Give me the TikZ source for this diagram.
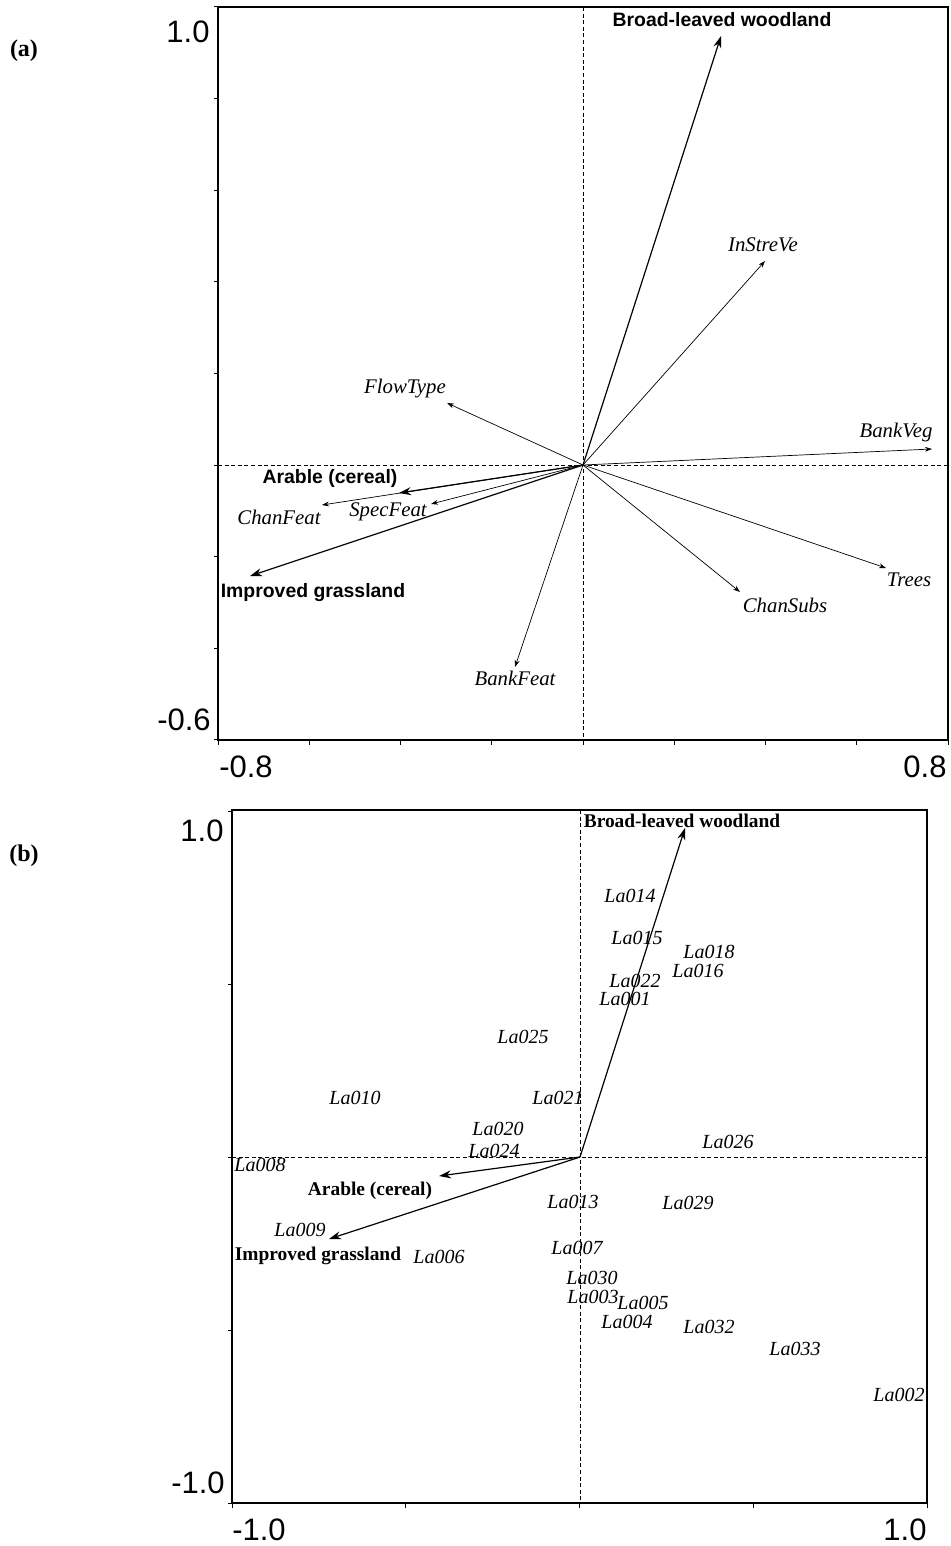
\documentclass[tikz,border=0pt]{standalone}
\usepackage{fontspec}
\setmainfont{Liberation Serif}
\setsansfont{Liberation Sans}
\usetikzlibrary{arrows.meta}
\begin{document}
\begin{tikzpicture}[x=0.5pt,y=-0.5pt,
  frame/.style={line width=0.7pt},
  axisdash/.style={line width=0.4pt, dash pattern=on 2pt off 1.3pt},
  thinarr/.style={line width=0.35pt, -{Stealth[length=3.5pt,width=2.4pt]}},
  thickarr/.style={line width=0.6pt, -{Stealth[length=6pt,width=4pt]}},
  ticklab/.style={font=\sffamily\fontsize{15.5}{16}\selectfont, inner sep=0},
  envsans/.style={font=\sffamily\bfseries\fontsize{9.7}{10}\selectfont, inner sep=0},
  varlab/.style={font=\itshape\fontsize{10.4}{11}\selectfont, inner sep=0},
  envserif/.style={font=\bfseries\fontsize{9.7}{10}\selectfont, inner sep=0},
  sitelab/.style={font=\itshape\fontsize{10}{11}\selectfont, inner sep=0},
  panellab/.style={font=\bfseries\fontsize{12}{13}\selectfont, inner sep=0},
  tick/.style={line width=0.5pt}]
\useasboundingbox (0,0) rectangle (950,1546);

% ================= Panel (a) =================
\node[panellab] (pa) at (24,51) {(a)};
\draw[frame] (218,740) -- (218,7) -- (948,7) -- (948,740) -- cycle;
\foreach \k in {-3,...,5} { \draw[tick] (214,{465-\k*91.6}) -- (218,{465-\k*91.6}); }
\foreach \k in {0,...,8} { \draw[tick] ({218+\k*91.25},740) -- ({218+\k*91.25},745); }
\draw[axisdash] (218,465) -- (948,465);
\draw[axisdash] (583,7) -- (583,740);
\node[ticklab] (ya1) at (188,32) {1.0};
\node[ticklab] (ya2) at (184,720) {-0.6};
\node[ticklab] (xa1) at (246,767) {-0.8};
\node[ticklab] (xa2) at (925,767) {0.8};

\coordinate (oa) at (583,465);
\coordinate (tBLW) at (721,36);
\coordinate (tISV) at (765,261);
\coordinate (tFT) at (447,403);
\coordinate (tBV) at (932,449);
\coordinate (tTR) at (886,568);
\coordinate (tCS) at (740,592);
\coordinate (tBF) at (515,667);
\coordinate (tAC) at (399,493);
\coordinate (tCF) at (322,505);
\coordinate (tSF) at (431,504);
\coordinate (tIG) at (250,576);

\draw[thickarr] (oa) -- (tBLW);
\draw[thinarr] (oa) -- (tISV);
\draw[thinarr] (oa) -- (tFT);
\draw[thinarr] (oa) -- (tBV);
\draw[thinarr] (oa) -- (tTR);
\draw[thinarr] (oa) -- (tCS);
\draw[thinarr] (oa) -- (tBF);
\draw[thickarr] (oa) -- (tAC);
\draw[thinarr] (oa) -- (tCF);
\draw[thinarr] (oa) -- (tSF);
\draw[thickarr] (oa) -- (tIG);

\node[envsans] (lBLW) at (722,20) {Broad-leaved woodland};
\node[varlab] (lISV) at (763,245) {InStreVe};
\node[varlab] (lFT) at (405,389) {FlowType};
\node[varlab] (lBV) at (896,432) {BankVeg};
\node[envsans] (lAC) at (330,478) {Arable (cereal)};
\node[varlab] (lCF) at (279,517) {ChanFeat};
\node[varlab] (lSF) at (388,512) {SpecFeat};
\node[envsans] (lIG) at (313,593) {Improved grassland};
\node[varlab] (lTR) at (909,580) {Trees};
\node[varlab] (lCS) at (785,605) {ChanSubs};
\node[varlab] (lBF) at (515,678) {BankFeat};

% ================= Panel (b) =================
\node[panellab] (pb) at (24,856) {(b)};
\draw[frame] (232,1503) -- (232,810) -- (927,810) -- (927,1503) -- cycle;
\foreach \k in {-2,...,2} { \draw[tick] (228,{1157-\k*173}) -- (232,{1157-\k*173}); }
\foreach \k in {0,...,4} { \draw[tick] ({232+\k*173.75},1503) -- ({232+\k*173.75},1508); }
\draw[axisdash] (232,1157) -- (927,1157);
\draw[axisdash] (580,810) -- (580,1503);
\node[ticklab] (yb1) at (202,831) {1.0};
\node[ticklab] (yb2) at (198,1483) {-1.0};
\node[ticklab] (xb1) at (259,1530) {-1.0};
\node[ticklab] (xb2) at (905,1530) {1.0};

\coordinate (ob) at (580,1157);
\coordinate (bBLW) at (685,828);
\coordinate (bAC) at (439,1176);
\coordinate (bIG) at (329,1239);
\draw[thickarr] (ob) -- (bBLW);
\draw[thickarr] (ob) -- (bAC);
\draw[thickarr] (ob) -- (bIG);

\node[envserif] (mBLW) at (682,821) {Broad-leaved woodland};
\node[envserif] (mAC) at (370,1191) {Arable (cereal)};
\node[envserif] (mIG) at (318,1256) {Improved grassland};

\node[sitelab] (s014) at (630,896) {La014};
\node[sitelab] (s015) at (637,938) {La015};
\node[sitelab] (s018) at (709,952) {La018};
\node[sitelab] (s016) at (698,971) {La016};
\node[sitelab] (s022) at (635,981) {La022};
\node[sitelab] (s001) at (625,999) {La001};
\node[sitelab] (s025) at (523,1037) {La025};
\node[sitelab] (s010) at (355,1098) {La010};
\node[sitelab] (s021) at (558,1098) {La021};
\node[sitelab] (s020) at (498,1129) {La020};
\node[sitelab] (s024) at (494,1151) {La024};
\node[sitelab] (s026) at (728,1142) {La026};
\node[sitelab] (s008) at (260,1165) {La008};
\node[sitelab] (s013) at (573,1202) {La013};
\node[sitelab] (s029) at (688,1203) {La029};
\node[sitelab] (s009) at (300,1230) {La009};
\node[sitelab] (s006) at (439,1257) {La006};
\node[sitelab] (s007) at (577,1248) {La007};
\node[sitelab] (s030) at (592,1278) {La030};
\node[sitelab] (s003) at (593,1297) {La003};
\node[sitelab] (s005) at (643,1303) {La005};
\node[sitelab] (s004) at (627,1322) {La004};
\node[sitelab] (s032) at (709,1327) {La032};
\node[sitelab] (s033) at (795,1349) {La033};
\node[sitelab] (s002) at (899,1395) {La002};
\end{tikzpicture}
\end{document}
